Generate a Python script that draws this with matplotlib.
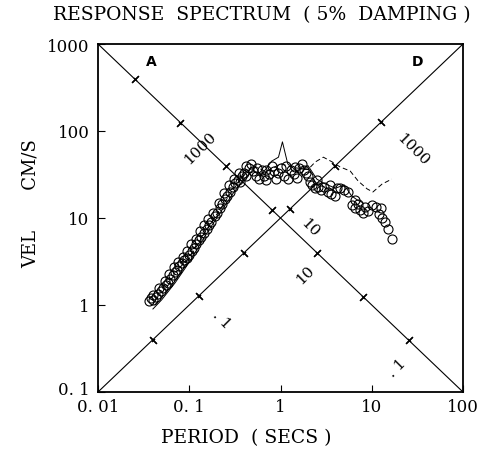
import numpy as np
import matplotlib
matplotlib.use('Agg')
from matplotlib import pyplot as plt
from matplotlib import transforms

# spectral velocity read from the record (period in s, velocity in cm/s)
obs_period = [0.036, 0.038, 0.040, 0.043, 0.046, 0.049, 0.052, 0.055, 0.058, 0.062,
              0.066, 0.070, 0.074, 0.078, 0.083, 0.088, 0.094, 0.100, 0.106, 0.112,
              0.120, 0.128, 0.135, 0.145, 0.155, 0.165, 0.175, 0.190, 0.200, 0.215,
              0.230, 0.245, 0.260, 0.280, 0.300, 0.320, 0.340, 0.360, 0.380, 0.400,
              0.420, 0.450, 0.480, 0.500, 0.540, 0.580, 0.620, 0.660, 0.700, 0.750,
              0.800, 0.850, 0.900, 0.950, 1.00, 1.10, 1.20, 1.30, 1.40, 1.50,
              1.60, 1.70, 1.80, 1.90, 2.00, 2.20, 2.40, 2.60, 2.80, 3.00,
              3.30, 3.60, 4.00, 4.50, 5.00, 5.50, 6.00, 6.50, 7.00, 7.50,
              8.00, 9.00, 10.0, 11.0, 12.0, 13.0, 14.0, 15.0, 16.5,
              0.040, 0.047, 0.054, 0.060, 0.068, 0.076, 0.085, 0.095, 0.105, 0.118,
              0.130, 0.145, 0.160, 0.180, 0.210, 0.240, 0.270, 0.310, 0.350, 0.420,
              0.550, 0.700, 1.15, 1.45, 2.10, 2.50, 3.50, 4.20, 6.50, 8.50, 12.5]
obs_vel = [1.10, 1.20, 1.15, 1.25, 1.35, 1.45, 1.55, 1.70, 1.80, 2.00,
           2.20, 2.40, 2.50, 2.80, 3.00, 3.30, 3.50, 3.80, 4.20, 4.50,
           5.00, 5.60, 6.00, 6.80, 7.50, 8.20, 9.00, 10.5, 11.5, 13.0,
           14.5, 16.5, 18.0, 20.0, 23.0, 25.0, 27.0, 26.0, 30.0, 33.0,
           30.0, 38.0, 42.0, 35.0, 30.0, 28.0, 36.0, 30.0, 27.0, 32.0,
           40.0, 35.0, 28.0, 33.0, 38.0, 30.0, 28.0, 36.0, 32.0, 29.0,
           38.0, 42.0, 36.0, 33.0, 30.0, 24.0, 22.0, 23.0, 21.0, 22.5,
           20.0, 19.0, 18.0, 22.0, 21.0, 20.0, 14.0, 13.0, 14.5, 12.5,
           11.5, 12.0, 14.0, 13.5, 11.0, 10.0, 9.0, 7.5, 5.8,
           1.30, 1.55, 1.90, 2.30, 2.70, 3.10, 3.60, 4.20, 5.00, 5.80,
           7.00, 8.20, 9.80, 11.5, 15.0, 19.5, 24.0, 28.0, 33.0, 40.0,
           38.0, 36.0, 40.0, 39.0, 26.0, 27.0, 24.0, 22.0, 16.0, 13.5, 13.0]

comp1_period = [0.040, 0.050, 0.070, 0.100, 0.150, 0.200, 0.300, 0.400, 0.500, 0.600,
                0.800, 0.950, 1.05, 1.20, 1.50, 2.00, 2.50, 3.00, 4.00, 5.00,
                6.00, 7.00, 8.00]
comp1_vel = [0.90, 1.15, 1.80, 3.10, 6.30, 10.0, 19.0, 28.0, 36.0, 30.0,
             45.0, 50.0, 75.0, 42.0, 35.0, 40.0, 28.0, 25.0, 22.0, 24.0,
             18.0, 16.0, 15.0]

comp2_period = [0.042, 0.055, 0.075, 0.100, 0.150, 0.200, 0.300, 0.400, 0.500, 0.700,
                1.00, 1.40, 2.00, 2.40, 2.95, 3.70, 4.50, 5.80, 7.10, 8.90,
                10.3, 13.0, 16.6]
comp2_vel = [1.00, 1.40, 2.10, 3.40, 7.00, 11.0, 21.0, 31.0, 40.0, 34.0,
             42.0, 38.0, 36.0, 44.0, 50.0, 44.0, 38.6, 34.7, 26.6, 21.6,
             19.9, 24.6, 28.0]

# tripartite guide lines: V*T = 10 (constant displacement) and V/T = 10 (constant acceleration)
guide_period = [0.01, 100.0]
accel_ticks_g = [100, 10, 1, 0.1, 0.01, 0.001, 0.0001]
disp_ticks_in = [0.001, 0.01, 0.1, 1, 10, 100]

accel_labels = ['1000', '10', '. 1']
accel_label_pos = [(0.131, 65.5), (1.85, 2.27), (18.9, 0.194)]
disp_labels = ['. 1', '10', '1000']
disp_label_pos = [(0.229, 0.69), (2.10, 7.9), (28.3, 62.0)]

serif = 'DejaVu Serif'

fig = plt.figure(figsize=(4.83, 4.52), dpi=100)
ax = fig.add_axes([98 / 483, 1 - 393 / 452, 365 / 483, 348 / 452])
ax.set_xscale('log')
ax.set_yscale('log')
ax.set_xlim(0.01, 100)
ax.set_ylim(0.1, 1000)

gp = np.array(guide_period)
ax.plot(gp, 10.0 / gp, color='black', lw=0.8)
ax.plot(gp, 10.0 * gp, color='black', lw=0.8)

# acceleration ticks (g) along the constant-displacement line
g = 981.0
t_a = np.sqrt(2 * np.pi * 10.0 / (np.array(accel_ticks_g) * g))
ax.plot(t_a, 10.0 / t_a, ls='none', marker=(2, 2, -45), ms=7, mew=0.9, color='black')
ax.plot(t_a, 10.0 / t_a, ls='none', marker=(2, 2, 45), ms=3, mew=0.8, color='black')
# displacement ticks along the constant-acceleration line
t_d = np.sqrt(2 * np.pi * 2.54 * np.array(disp_ticks_in) / 10.0)
ax.plot(t_d, 10.0 * t_d, ls='none', marker=(2, 2, 45), ms=7, mew=0.9, color='black')
ax.plot(t_d, 10.0 * t_d, ls='none', marker=(2, 2, -45), ms=3, mew=0.8, color='black')

for lab, (t, v) in zip(accel_labels, accel_label_pos):
    ax.text(t, v, lab, rotation=45, ha='center', va='center', fontsize=11, family=serif)
for lab, (t, v) in zip(disp_labels, disp_label_pos):
    ax.text(t, v, lab, rotation=-45, ha='center', va='center', fontsize=11, family=serif)

ax.text(0.0381, 638, 'A', ha='center', va='center', fontsize=10, fontweight='bold')
ax.text(32.1, 638, 'D', ha='center', va='center', fontsize=10, fontweight='bold')

ax.plot(comp1_period, comp1_vel, color='black', lw=0.7)
ax.plot(comp2_period, comp2_vel, color='black', lw=0.7, ls=(0, (5, 3)))
ax.plot(obs_period, obs_vel, ls='none', marker='o', ms=6.5, mfc='none',
        mec='black', mew=0.8)

ax.set_xticks([0.01, 0.1, 1, 10, 100])
ax.set_xticklabels(['0. 01', '0. 1', '1', '10', '100'])
ax.set_yticks([0.1, 1, 10, 100, 1000])
ax.set_yticklabels(['0. 1', '1', '10', '100', '1000'])
ax.minorticks_off()
ax.tick_params(direction='in', length=5, width=0.8, top=False, right=False,
               labelsize=12)
ax.tick_params(axis='x', pad=4)
ax.tick_params(axis='y', pad=6)
for lbl in ax.get_xticklabels() + ax.get_yticklabels():
    lbl.set_family(serif)
# lift the lowest y label clear of the first period label
lowest = ax.get_yticklabels()[0]
lowest.set_transform(lowest.get_transform() +
                     transforms.ScaledTranslation(0, 4 / 100, fig.dpi_scale_trans))
for sp in ax.spines.values():
    sp.set_linewidth(1.3)

fig.text(262 / 483, 1 - 15 / 452, 'RESPONSE  SPECTRUM  ( 5%  DAMPING )',
         ha='center', va='center', fontsize=13.5, family=serif)
fig.text(246 / 483, 1 - 438 / 452, 'PERIOD  ( SECS )', ha='center', va='center',
         fontsize=13.5, family=serif)
fig.text(31 / 483, 1 - 204 / 452, 'VEL       CM/S', ha='center', va='center',
         rotation=90, fontsize=13, family=serif)

fig.savefig('out.png', dpi=100)
